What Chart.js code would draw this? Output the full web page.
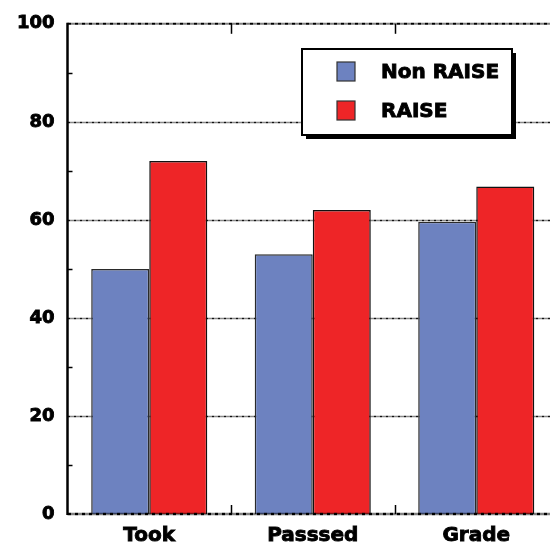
<!DOCTYPE html>
<html>
<head>
<meta charset="utf-8">
<script src="https://cdn.jsdelivr.net/npm/chart.js@4"></script>
<style>
  html, body { margin: 0; padding: 0; background: #fff; overflow: hidden; }
  #wrap { width: 570px; height: 543px; }
</style>
</head>
<body>
<div id="wrap"><canvas id="myChart"></canvas></div>
<script>
var categories = ['Took', 'Passsed', 'Grade'];
var nonRaise = [50, 53, 59.6];
var raise = [72, 62, 66.8];
var seriesNames = ['Non RAISE', 'RAISE'];
var yMin = 0, yMax = 100, yMajor = 20, yMinor = 5;

var FONT = "'DejaVu Sans', sans-serif";

// grid lines, axes, small inner ticks and the boxed legend
var frame = {
    id: 'frame',
    beforeDatasetsDraw(chart) {
        const ctx = chart.ctx, a = chart.chartArea, y = chart.scales.y;
        ctx.save();
        ctx.strokeStyle = '#111';
        ctx.lineWidth = 1.6;
        ctx.setLineDash([3, 1, 1, 1]);
        y.ticks.forEach(t => {
            if (t.value % yMajor !== 0 || t.value === yMin || t.value === yMax) return;
            const py = Math.round(y.getPixelForValue(t.value)) + 0.5;
            ctx.beginPath(); ctx.moveTo(a.left, py); ctx.lineTo(a.right, py); ctx.stroke();
        });
        ctx.restore();
    },
    afterDatasetsDraw(chart) {
        const ctx = chart.ctx, a = chart.chartArea, y = chart.scales.y, x = chart.scales.x;
        ctx.save();
        // top and bottom lines
        ctx.strokeStyle = '#000';
        ctx.setLineDash([4, 1, 1, 1]);
        ctx.lineWidth = 2;
        ctx.beginPath(); ctx.moveTo(a.left, a.top); ctx.lineTo(a.right, a.top); ctx.stroke();
        ctx.lineWidth = 2.5;
        ctx.beginPath(); ctx.moveTo(a.left, a.bottom); ctx.lineTo(a.right, a.bottom); ctx.stroke();
        ctx.setLineDash([]);
        // left axis
        ctx.lineWidth = 2.5;
        ctx.beginPath(); ctx.moveTo(a.left, a.top - 1); ctx.lineTo(a.left, a.bottom + 1); ctx.stroke();
        // minor ticks
        ctx.lineWidth = 1.5;
        y.ticks.forEach(t => {
            if (t.value % yMajor === 0) return;
            const py = Math.round(y.getPixelForValue(t.value)) + 0.5;
            ctx.beginPath(); ctx.moveTo(a.left, py); ctx.lineTo(a.left + 5, py); ctx.stroke();
        });
        // category separators
        for (let i = 1; i < categories.length; i++) {
            const px = Math.round((x.getPixelForValue(i - 1) + x.getPixelForValue(i)) / 2) + 0.5;
            ctx.beginPath(); ctx.moveTo(px, a.bottom); ctx.lineTo(px, a.bottom - 9); ctx.stroke();
            ctx.beginPath(); ctx.moveTo(px, a.top); ctx.lineTo(px, a.top + 10); ctx.stroke();
        }
        // legend
        const bx = 302, by = 49, bw = 210, bh = 86;
        ctx.fillStyle = '#000';
        ctx.fillRect(bx + 4, by + 4, bw, bh);
        ctx.fillStyle = '#fff';
        ctx.fillRect(bx, by, bw, bh);
        ctx.lineWidth = 2;
        ctx.strokeRect(bx, by, bw, bh);
        ctx.font = 'bold 20px ' + FONT;
        ctx.textBaseline = 'middle';
        chart.data.datasets.forEach((ds, i) => {
            const sy = 62 + i * 39;
            ctx.fillStyle = ds.backgroundColor;
            ctx.fillRect(337, sy, 18, 19);
            ctx.strokeStyle = '#333';
            ctx.lineWidth = 1.2;
            ctx.strokeRect(337, sy, 18, 19);
            ctx.fillStyle = '#000';
            ctx.strokeStyle = '#000';
            ctx.lineWidth = 0.9;
            ctx.fillText(ds.label, 381, sy + 11);
            ctx.strokeText(ds.label, 381, sy + 11);
        });
        ctx.restore();
    }
};

var chart = new Chart(document.getElementById('myChart'), {
    type: 'bar',
    data: {
        labels: categories,
        datasets: [
            { label: seriesNames[0], data: nonRaise, backgroundColor: '#6d82c0', borderColor: '#2a2a2a', borderWidth: 1.5 },
            { label: seriesNames[1], data: raise, backgroundColor: '#ee2527', borderColor: '#111', borderWidth: 1.5 }
        ]
    },
    options: {
        responsive: true,
        maintainAspectRatio: false,
        animation: false,
        events: [],
        layout: { padding: { top: 22, right: 12, left: 0, bottom: 0 } },
        datasets: { bar: { categoryPercentage: 0.71, barPercentage: 1.0 } },
        plugins: { legend: { display: false }, tooltip: { enabled: false } },
        scales: {
            x: {
                grid: { display: false, drawTicks: false },
                border: { display: false },
                ticks: {
                    color: '#000', padding: 10, textStrokeColor: '#000', textStrokeWidth: 0.9,
                    font: { family: FONT, weight: 'bold', size: 20 }
                },
                afterFit: s => { s.height = 29; }
            },
            y: {
                min: yMin, max: yMax,
                grid: { display: false, drawTicks: false },
                border: { display: false },
                ticks: {
                    stepSize: yMinor, color: '#000', padding: 13, textStrokeColor: '#000', textStrokeWidth: 0.9,
                    font: { family: FONT, weight: 'bold', size: 18 },
                    callback: v => (v % yMajor === 0 ? v : '')
                },
                afterFit: s => { s.width = 67.5; }
            }
        }
    },
    plugins: [frame]
});
</script>
</body>
</html>
